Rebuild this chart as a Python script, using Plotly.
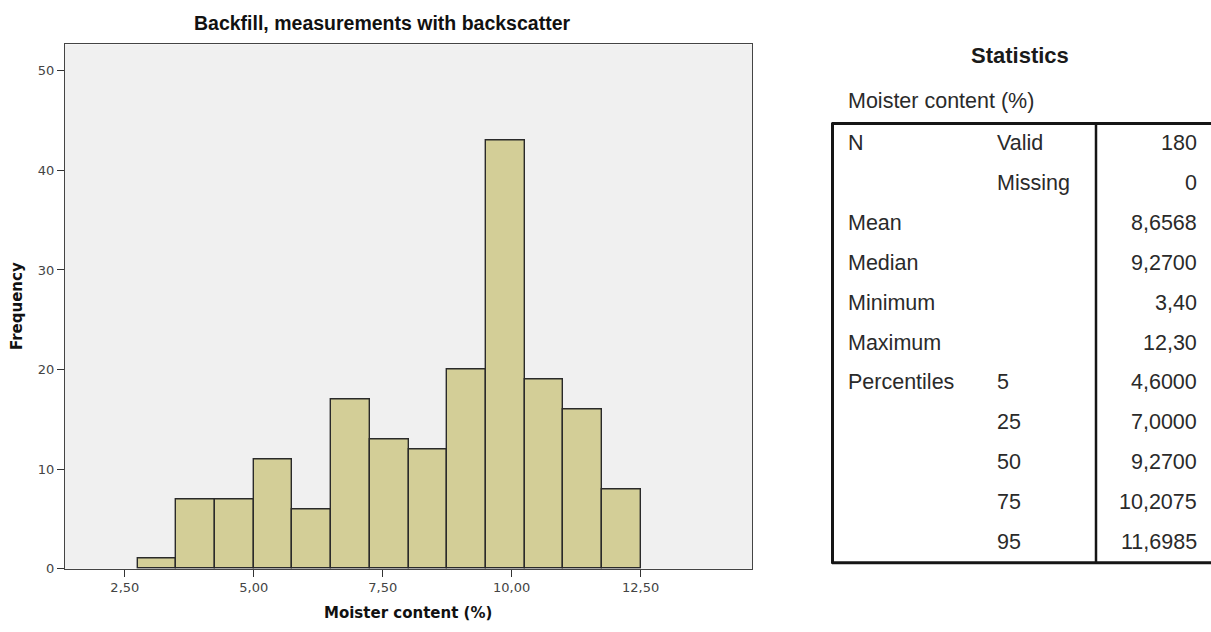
import plotly.graph_objects as go

# ---- Histogram data ----
bin_edges = [2.75, 3.50, 4.25, 5.00, 5.75, 6.50, 7.25, 8.00, 8.75, 9.50, 10.25, 11.00, 11.75, 12.50]
counts = [1, 7, 7, 11, 6, 17, 13, 12, 20, 43, 19, 16, 8]
x_tick_vals = [2.5, 5.0, 7.5, 10.0, 12.5]
x_tick_text = ["2,50", "5,00", "7,50", "10,00", "12,50"]
y_tick_vals = [0, 10, 20, 30, 40, 50]

# ---- Statistics table data ----
stat_labels = ["N", "", "Mean", "Median", "Minimum", "Maximum", "Percentiles", "", "", "", ""]
sub_labels = ["Valid", "Missing", "", "", "", "", "5", "25", "50", "75", "95"]
stat_values = ["180", "0", "8,6568", "9,2700", "3,40", "12,30", "4,6000", "7,0000", "9,2700", "10,2075", "11,6985"]

W, H = 1211, 632
FONT = "Liberation Sans, Arial, sans-serif"
FONT2 = "DejaVu Sans, Verdana, sans-serif"


def px(x):
    return x / W


def py(y):
    return 1 - y / H


centers = [(a + b) / 2 for a, b in zip(bin_edges[:-1], bin_edges[1:])]
widths = [b - a for a, b in zip(bin_edges[:-1], bin_edges[1:])]

fig = go.Figure()
fig.add_trace(go.Bar(
    x=centers, y=counts, width=widths,
    marker=dict(color="#d3ce97", line=dict(color="#2a2a2a", width=1.4)),
    showlegend=False, hoverinfo="x+y",
))

# plot area pixel box
px0, px1, py0, py1 = 65, 752, 45, 576

annotations = []
shapes = []
TXT = dict(family=FONT, size=21.5, color="#2a2a2a")

row_y0, row_dy = 145, 40.4
for i, (a, b, v) in enumerate(zip(stat_labels, sub_labels, stat_values)):
    y = row_y0 + i * row_dy
    if a:
        annotations.append(dict(x=px(846), y=py(y), xref="paper", yref="paper", text=a, showarrow=False,
                                xanchor="left", yanchor="middle", font=TXT))
    if b:
        annotations.append(dict(x=px(995), y=py(y), xref="paper", yref="paper", text=b, showarrow=False,
                                xanchor="left", yanchor="middle", font=TXT))
    annotations.append(dict(x=px(1199), y=py(y), xref="paper", yref="paper", text=v, showarrow=False,
                            xanchor="right", yanchor="middle", font=TXT))

annotations.append(dict(x=px(1020), y=py(56), xref="paper", yref="paper", text="<b>Statistics</b>", showarrow=False,
                        xanchor="center", yanchor="middle",
                        font=dict(family=FONT, size=22, color="#1a1a1a")))
annotations.append(dict(x=px(846), y=py(102), xref="paper", yref="paper", text="Moister content (%)", showarrow=False,
                        xanchor="left", yanchor="middle", font=TXT))

# chart title & axis titles
annotations.append(dict(x=px(382), y=py(23), xref="paper", yref="paper",
                        text="<b>Backfill, measurements with backscatter</b>",
                        showarrow=False, xanchor="center", yanchor="middle",
                        font=dict(family=FONT, size=19.5, color="#111")))
annotations.append(dict(x=px(408), y=py(621), xref="paper", yref="paper", text="<b>Moister content (%)</b>",
                        showarrow=False, xanchor="center", yanchor="middle",
                        font=dict(family=FONT2, size=15, color="#111")))
annotations.append(dict(x=px(17), y=py(310), xref="paper", yref="paper", text="<b>Frequency</b>", textangle=-90,
                        showarrow=False, xanchor="center", yanchor="middle",
                        font=dict(family=FONT2, size=15, color="#111")))

# table borders
lc = "#151515"
shapes.append(dict(type="line", xref="paper", yref="paper", x0=px(832), x1=px(1215), y0=py(125), y1=py(125),
                   line=dict(color=lc, width=3)))
shapes.append(dict(type="line", xref="paper", yref="paper", x0=px(832), x1=px(1215), y0=py(570), y1=py(570),
                   line=dict(color=lc, width=3)))
shapes.append(dict(type="line", xref="paper", yref="paper", x0=px(832.5), x1=px(832.5), y0=py(124), y1=py(571),
                   line=dict(color=lc, width=3)))
shapes.append(dict(type="line", xref="paper", yref="paper", x0=px(1096), x1=px(1096), y0=py(124), y1=py(571),
                   line=dict(color=lc, width=2.5)))

fig.update_layout(
    width=W, height=H,
    margin=dict(l=0, r=0, t=0, b=0),
    paper_bgcolor="white",
    plot_bgcolor="#f0f0f0",
    bargap=0,
    xaxis=dict(
        domain=[px0 / W, px1 / W], range=[1.34, 14.66],
        tickvals=x_tick_vals, ticktext=x_tick_text,
        ticks="outside", ticklen=7, tickcolor="#333", tickwidth=1.3,
        tickfont=dict(family=FONT2, size=13, color="#444"),
        showgrid=False, zeroline=False,
        showline=True, linecolor="#444", linewidth=1.3, mirror=True,
        fixedrange=True,
    ),
    yaxis=dict(
        domain=[1 - py1 / H, 1 - py0 / H], range=[0, 52.65],
        tickvals=y_tick_vals,
        ticks="outside", ticklen=7, tickcolor="#333", tickwidth=1.3,
        tickfont=dict(family=FONT2, size=13, color="#444"),
        showgrid=False, zeroline=False,
        showline=True, linecolor="#444", linewidth=1.3, mirror=True,
        fixedrange=True,
    ),
    annotations=annotations,
    shapes=shapes,
)

fig.write_html("out.html")
